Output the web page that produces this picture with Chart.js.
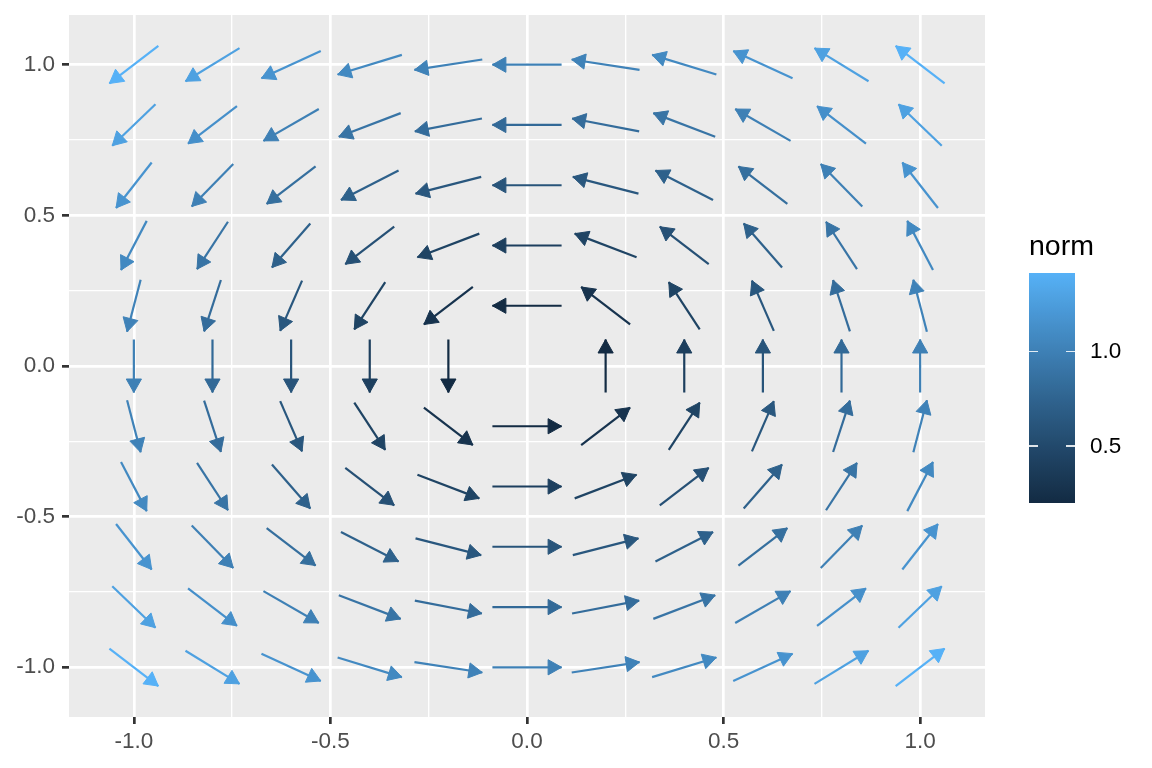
<!DOCTYPE html>
<html><head><meta charset="utf-8">
<script src="https://cdn.jsdelivr.net/npm/chart.js@4/dist/chart.umd.min.js"></script>
<style>
html,body{margin:0;padding:0;background:#fff;}
#wrap{position:relative;width:1152px;height:768px;overflow:hidden;}
#c{position:absolute;left:0;top:0;}
.lg{position:absolute;font-family:"Liberation Sans",Arial,sans-serif;white-space:nowrap;color:#000;}
.tk{position:absolute;height:1.2px;width:9px;background:rgba(255,255,255,0.85);}
</style></head><body>
<div id="wrap"><canvas id="c" width="1152" height="768"></canvas></div>
<script>
// ---- data ----
const xGrid = [-1.0, -0.8, -0.6, -0.4, -0.2, 0.0, 0.2, 0.4, 0.6, 0.8, 1.0];
const yGrid = [1.0, 0.8, 0.6, 0.4, 0.2, 0.0, -0.2, -0.4, -0.6, -0.8, -1.0];
// horizontal component of each arrow (rows follow yGrid, columns follow xGrid)
const uComp = [
  [-1.0,-1.0,-1.0,-1.0,-1.0,-1.0,-1.0,-1.0,-1.0,-1.0,-1.0],
  [-0.8,-0.8,-0.8,-0.8,-0.8,-0.8,-0.8,-0.8,-0.8,-0.8,-0.8],
  [-0.6,-0.6,-0.6,-0.6,-0.6,-0.6,-0.6,-0.6,-0.6,-0.6,-0.6],
  [-0.4,-0.4,-0.4,-0.4,-0.4,-0.4,-0.4,-0.4,-0.4,-0.4,-0.4],
  [-0.2,-0.2,-0.2,-0.2,-0.2,-0.2,-0.2,-0.2,-0.2,-0.2,-0.2],
  [ 0.0, 0.0, 0.0, 0.0, 0.0, 0.0, 0.0, 0.0, 0.0, 0.0, 0.0],
  [ 0.2, 0.2, 0.2, 0.2, 0.2, 0.2, 0.2, 0.2, 0.2, 0.2, 0.2],
  [ 0.4, 0.4, 0.4, 0.4, 0.4, 0.4, 0.4, 0.4, 0.4, 0.4, 0.4],
  [ 0.6, 0.6, 0.6, 0.6, 0.6, 0.6, 0.6, 0.6, 0.6, 0.6, 0.6],
  [ 0.8, 0.8, 0.8, 0.8, 0.8, 0.8, 0.8, 0.8, 0.8, 0.8, 0.8],
  [ 1.0, 1.0, 1.0, 1.0, 1.0, 1.0, 1.0, 1.0, 1.0, 1.0, 1.0]
];
// vertical component of each arrow
const vComp = [
  [-1.0,-0.8,-0.6,-0.4,-0.2,0.0,0.2,0.4,0.6,0.8,1.0],
  [-1.0,-0.8,-0.6,-0.4,-0.2,0.0,0.2,0.4,0.6,0.8,1.0],
  [-1.0,-0.8,-0.6,-0.4,-0.2,0.0,0.2,0.4,0.6,0.8,1.0],
  [-1.0,-0.8,-0.6,-0.4,-0.2,0.0,0.2,0.4,0.6,0.8,1.0],
  [-1.0,-0.8,-0.6,-0.4,-0.2,0.0,0.2,0.4,0.6,0.8,1.0],
  [-1.0,-0.8,-0.6,-0.4,-0.2,0.0,0.2,0.4,0.6,0.8,1.0],
  [-1.0,-0.8,-0.6,-0.4,-0.2,0.0,0.2,0.4,0.6,0.8,1.0],
  [-1.0,-0.8,-0.6,-0.4,-0.2,0.0,0.2,0.4,0.6,0.8,1.0],
  [-1.0,-0.8,-0.6,-0.4,-0.2,0.0,0.2,0.4,0.6,0.8,1.0],
  [-1.0,-0.8,-0.6,-0.4,-0.2,0.0,0.2,0.4,0.6,0.8,1.0],
  [-1.0,-0.8,-0.6,-0.4,-0.2,0.0,0.2,0.4,0.6,0.8,1.0]
];
const xTicks = [-1.0, -0.75, -0.5, -0.25, 0.0, 0.25, 0.5, 0.75, 1.0];
const yTicks = [-1.0, -0.75, -0.5, -0.25, 0.0, 0.25, 0.5, 0.75, 1.0];
const legendTicks = [0.5, 1.0];
const legendTitle = "norm";

// ---- styling constants ----
const ARROW_HALF = 0.088;     // half arrow length in data units
const LOW = "#132B43", HIGH = "#56B1F7";
const FONT = '"Liberation Sans", Arial, sans-serif';

// ---- colour scale (Lab interpolation, like ggplot2) ----
function hex2rgb(h){return [parseInt(h.substr(1,2),16),parseInt(h.substr(3,2),16),parseInt(h.substr(5,2),16)];}
function toLin(c){c/=255;return c<=0.04045?c/12.92:Math.pow((c+0.055)/1.055,2.4);}
function fromLin(c){c=c<=0.0031308?12.92*c:1.055*Math.pow(c,1/2.4)-0.055;return Math.round(Math.max(0,Math.min(1,c))*255);}
const Xn=0.95047,Yn=1,Zn=1.08883;
function f(t){return t>0.008856?Math.cbrt(t):7.787*t+16/116;}
function finv(t){const t3=t*t*t;return t3>0.008856?t3:(t-16/116)/7.787;}
function rgb2lab(rgb){const r=toLin(rgb[0]),g=toLin(rgb[1]),b=toLin(rgb[2]);
  const X=0.4124564*r+0.3575761*g+0.1804375*b,Y=0.2126729*r+0.7151522*g+0.0721750*b,Z=0.0193339*r+0.1191920*g+0.9503041*b;
  const fx=f(X/Xn),fy=f(Y/Yn),fz=f(Z/Zn);return [116*fy-16,500*(fx-fy),200*(fy-fz)];}
function lab2rgb(l){const fy=(l[0]+16)/116,fx=fy+l[1]/500,fz=fy-l[2]/200;
  const X=finv(fx)*Xn,Y=finv(fy)*Yn,Z=finv(fz)*Zn;
  const r=3.2404542*X-1.5371385*Y-0.4985314*Z,g=-0.9692660*X+1.8760108*Y+0.0415560*Z,b=0.0556434*X-0.2040259*Y+1.0572252*Z;
  return [fromLin(r),fromLin(g),fromLin(b)];}
const labLo=rgb2lab(hex2rgb(LOW)),labHi=rgb2lab(hex2rgb(HIGH));
function colAt(t){t=Math.max(0,Math.min(1,t));const l=[0,1,2].map(i=>labLo[i]+(labHi[i]-labLo[i])*t);const c=lab2rgb(l);return `rgb(${c[0]},${c[1]},${c[2]})`;}

// ---- build arrows ----
const arrows=[];
let nMin=Infinity,nMax=-Infinity;
yGrid.forEach((y,r)=>xGrid.forEach((x,c)=>{
  const u=uComp[r][c],v=vComp[r][c],n=Math.hypot(u,v);
  if(n===0)return;
  nMin=Math.min(nMin,n);nMax=Math.max(nMax,n);
  arrows.push({x,y,u,v,n});
}));
const datasets=arrows.map(a=>{
  const dx=a.u/a.n*ARROW_HALF,dy=a.v/a.n*ARROW_HALF;
  const col=colAt((a.n-nMin)/(nMax-nMin));
  return {data:[{x:a.x-dx,y:a.y-dy},{x:a.x+dx,y:a.y+dy}],showLine:true,borderColor:col,backgroundColor:col,
    borderWidth:2.2,pointRadius:0,pointHoverRadius:0,fill:false,tension:0};
});

const panelBg={id:'panelBg',beforeDraw(chart){const a=chart.chartArea,ctx=chart.ctx;ctx.save();ctx.fillStyle='#EBEBEB';ctx.fillRect(a.left,a.top,a.right-a.left,a.bottom-a.top);ctx.restore();}};
const heads={id:'heads',afterDatasetsDraw(chart){
  const ctx=chart.ctx;ctx.save();
  chart.data.datasets.forEach((ds,i)=>{
    const m=chart.getDatasetMeta(i);const p0=m.data[0],p1=m.data[1];
    const ang=Math.atan2(p1.y-p0.y,p1.x-p0.x);const L=13.5,W=7.6;
    const cx=Math.cos(ang),sy=Math.sin(ang);
    const bx=p1.x-L*cx,by=p1.y-L*sy;
    ctx.beginPath();ctx.moveTo(p1.x,p1.y);ctx.lineTo(bx-W*sy,by+W*cx);ctx.lineTo(bx+W*sy,by-W*cx);ctx.closePath();
    ctx.fillStyle=ds.borderColor;ctx.strokeStyle=ds.borderColor;ctx.lineWidth=1;ctx.lineJoin='miter';ctx.fill();ctx.stroke();
  });
  ctx.restore();}};

const isMajor=v=>Math.abs(v*2-Math.round(v*2))<1e-9;
function axis(ticksArr,min,max,fit){
  return {type:'linear',min,max,
    afterBuildTicks:s=>{s.ticks=ticksArr.map(v=>({value:v}));},
    afterFit:fit,
    border:{display:false},
    grid:{color:'#FFFFFF',lineWidth:c=>isMajor(c.tick.value)?2.7:1.35,
      tickColor:c=>isMajor(c.tick.value)?'#333333':'rgba(0,0,0,0)',tickLength:7,tickWidth:2.7,drawTicks:true},
    ticks:{autoSkip:false,maxRotation:0,minRotation:0,color:'#4D4D4D',font:{family:FONT,size:22.5},padding:7,
      callback:v=>isMajor(v)?Number(v).toFixed(1):''}};
}
const xs=axis(xTicks,-1.165,1.165,s=>{s.height=51;s.paddingLeft=0;s.paddingRight=0;});
xs.ticks.padding=4;
const ys=axis(yTicks,-1.165,1.165,s=>{s.width=69;s.paddingTop=0;s.paddingBottom=0;});

new Chart(document.getElementById('c'),{type:'scatter',data:{datasets},
  options:{responsive:false,animation:false,devicePixelRatio:1,
    layout:{padding:{top:15,right:167,left:0,bottom:0}},
    plugins:{legend:{display:false},tooltip:{enabled:false}},
    events:[],
    scales:{x:xs,y:ys}},
  plugins:[panelBg,heads]});

// ---- colour bar legend ----
const wrap=document.getElementById('wrap');
const barTop=272.7,barH=230.3,barL=1029,barW=46;
const stops=[];for(let i=0;i<=40;i++){stops.push(`${colAt(i/40)} ${(i/40*100).toFixed(2)}%`);}
const bar=document.createElement('div');
bar.style.cssText=`position:absolute;left:${barL}px;top:${barTop}px;width:${barW}px;height:${barH}px;background:linear-gradient(to top, ${stops.join(',')});`;
wrap.appendChild(bar);
const ttl=document.createElement('div');ttl.className='lg';ttl.textContent=legendTitle;
ttl.style.cssText+=`left:1029px;top:231px;font-size:28.5px;line-height:28.5px;`;wrap.appendChild(ttl);
legendTicks.forEach(v=>{
  const py=barTop+(nMax-v)/(nMax-nMin)*barH;
  const t1=document.createElement('div');t1.className='tk';t1.style.left=barL+'px';t1.style.top=(py-0.6)+'px';wrap.appendChild(t1);
  const t2=document.createElement('div');t2.className='tk';t2.style.left=(barL+barW-9)+'px';t2.style.top=(py-0.6)+'px';wrap.appendChild(t2);
  const lb=document.createElement('div');lb.className='lg';lb.textContent=v.toFixed(1);
  lb.style.cssText+=`left:1090px;top:${(py+8.1-0.8465*22.5).toFixed(1)}px;font-size:22.5px;line-height:22.5px;`;
  wrap.appendChild(lb);
});
</script>
</body></html>
